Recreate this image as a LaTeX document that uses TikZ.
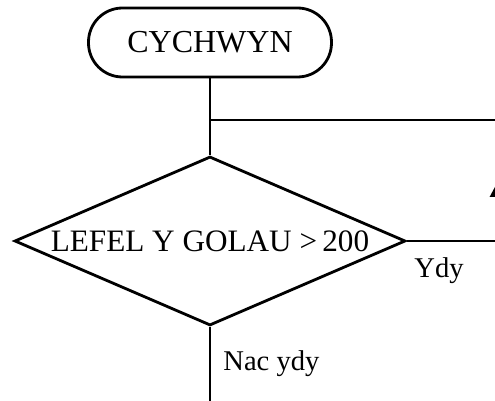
\documentclass[tikz,border=0pt]{standalone}
\usepackage{fontspec}
\setmainfont{Liberation Serif}
\usetikzlibrary{shapes.geometric, arrows.meta}

\begin{document}
\begin{tikzpicture}[x=0.5pt, y=-0.5pt, line width=1.4pt,
	every node/.style={font=\fontsize{16}{19}\selectfont},
	terminal/.style={draw, rounded corners=17pt, minimum width=121.5pt, minimum height=34.5pt, inner sep=0pt},
	decision/.style={draw, diamond, aspect=2.31, minimum width=195.5pt, minimum height=84.5pt, inner sep=0pt, font=\fontsize{15.6}{19}\selectfont},
	flowlabel/.style={anchor=base west, inner sep=0pt, font=\fontsize{14.3}{17}\selectfont}]
	
	\useasboundingbox (0,0) rectangle (495,401);
	\clip (0,0) rectangle (495,401);
	
	% --- blychau ---
	\node[terminal] (cychwyn) at (210,42.5) {CYCHWYN};
	\node[decision] (golau) at (210,241) {LEFEL Y GOLAU >\,200};
	
	% --- pwyntiau'r ddolen ---
	\coordinate (uno) at (210,120);
	\coordinate (dolenTop) at (497,120);
	\coordinate (dolenSaeth) at (497,183);
	\coordinate (dolenGwaelod) at (497,241);
	\coordinate (diwedd) at (210,410);
	
	% --- cysylltwyr ---
	\draw (cychwyn.south) -- (golau.north);
	\draw (golau.east) -- (dolenGwaelod);
	\draw[-{Triangle[length=7pt, width=7pt]}] (dolenGwaelod) -- (dolenSaeth);
	\draw (dolenSaeth) -- (dolenTop) -- (uno);
	\draw (golau.south) -- (diwedd);
	
	% --- labeli ---
	\node[flowlabel] (ydy) at (413,278) {Ydy};
	\node[flowlabel] (nacydy) at (222,371) {Nac ydy};
	
\end{tikzpicture}
\end{document}
